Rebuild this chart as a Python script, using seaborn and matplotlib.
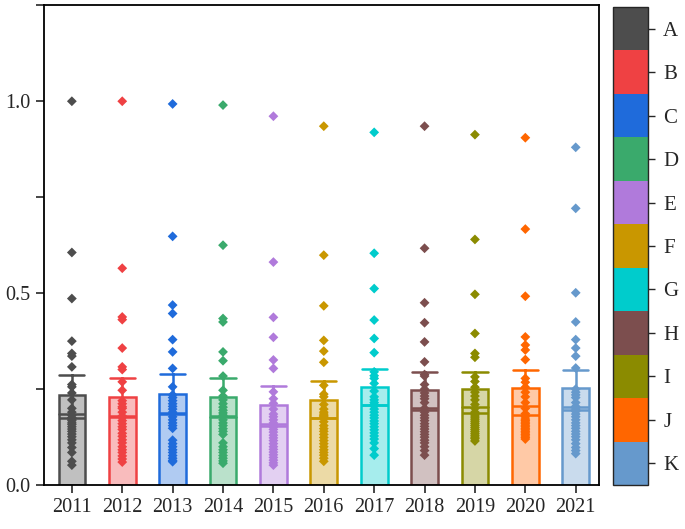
import numpy as np
import pandas as pd
import matplotlib
matplotlib.use("Agg")
import matplotlib.pyplot as plt
import seaborn as sns
from matplotlib.colors import ListedColormap, BoundaryNorm, to_rgba
from matplotlib.cm import ScalarMappable

# values, one list per year
years = ["2011", "2012", "2013", "2014", "2015", "2016", "2017", "2018", "2019", "2020", "2021"]
v2011 = [1.0, 0.606, 0.486, 0.375, 0.343, 0.336, 0.308, 0.262, 0.256, 0.24, 0.222, 0.2, 0.19, 0.182, 0.176,
         0.172, 0.168, 0.162, 0.158, 0.152, 0.146, 0.14, 0.133, 0.126, 0.118, 0.11, 0.098, 0.085, 0.062, 0.052]
v2012 = [1.0, 0.565, 0.438, 0.431, 0.357, 0.308, 0.301, 0.269, 0.247, 0.22, 0.212, 0.204, 0.2, 0.19, 0.18,
         0.176, 0.168, 0.16, 0.152, 0.145, 0.135, 0.127, 0.118, 0.11, 0.1, 0.092, 0.085, 0.076, 0.068, 0.06]
v2013 = [0.993, 0.648, 0.469, 0.447, 0.379, 0.347, 0.304, 0.256, 0.235, 0.228, 0.22, 0.212, 0.205, 0.198, 0.19,
         0.186, 0.178, 0.17, 0.162, 0.155, 0.148, 0.117, 0.108, 0.1, 0.092, 0.085, 0.077, 0.07, 0.064, 0.061]
v2014 = [0.99, 0.625, 0.434, 0.425, 0.347, 0.324, 0.284, 0.247, 0.232, 0.222, 0.212, 0.203, 0.195, 0.188, 0.182,
         0.178, 0.17, 0.162, 0.155, 0.147, 0.14, 0.132, 0.11, 0.1, 0.092, 0.085, 0.077, 0.07, 0.063, 0.057]
v2015 = [0.961, 0.581, 0.437, 0.385, 0.326, 0.304, 0.243, 0.225, 0.213, 0.198, 0.185, 0.178, 0.17, 0.162, 0.157,
         0.151, 0.145, 0.138, 0.13, 0.123, 0.116, 0.108, 0.1, 0.093, 0.086, 0.079, 0.072, 0.065, 0.058, 0.052]
v2016 = [0.935, 0.599, 0.467, 0.377, 0.349, 0.32, 0.26, 0.237, 0.23, 0.21, 0.198, 0.19, 0.185, 0.181, 0.178,
         0.174, 0.165, 0.155, 0.147, 0.14, 0.132, 0.124, 0.116, 0.108, 0.1, 0.092, 0.085, 0.078, 0.07, 0.062]
v2017 = [0.919, 0.604, 0.512, 0.43, 0.382, 0.345, 0.295, 0.285, 0.278, 0.265, 0.245, 0.23, 0.222, 0.215, 0.21,
         0.206, 0.198, 0.19, 0.182, 0.175, 0.167, 0.16, 0.152, 0.144, 0.136, 0.128, 0.12, 0.11, 0.095, 0.078]
v2018 = [0.935, 0.617, 0.475, 0.423, 0.373, 0.321, 0.288, 0.284, 0.262, 0.25, 0.24, 0.232, 0.225, 0.215, 0.2,
         0.19, 0.182, 0.175, 0.168, 0.16, 0.153, 0.146, 0.139, 0.132, 0.125, 0.117, 0.11, 0.1, 0.09, 0.078]
v2019 = [0.913, 0.64, 0.497, 0.395, 0.343, 0.333, 0.282, 0.27, 0.255, 0.242, 0.232, 0.222, 0.21, 0.2, 0.19,
         0.185, 0.18, 0.175, 0.17, 0.165, 0.16, 0.155, 0.15, 0.145, 0.14, 0.135, 0.13, 0.125, 0.121, 0.115]
v2020 = [0.905, 0.667, 0.492, 0.386, 0.365, 0.352, 0.327, 0.278, 0.268, 0.255, 0.242, 0.23, 0.215, 0.2, 0.186,
         0.178, 0.172, 0.168, 0.164, 0.16, 0.156, 0.152, 0.148, 0.144, 0.14, 0.136, 0.132, 0.128, 0.124, 0.12]
v2021 = [0.88, 0.721, 0.501, 0.425, 0.379, 0.357, 0.336, 0.305, 0.25, 0.242, 0.235, 0.228, 0.215, 0.205, 0.198,
         0.192, 0.185, 0.178, 0.17, 0.162, 0.155, 0.148, 0.14, 0.133, 0.126, 0.118, 0.108, 0.098, 0.09, 0.082]

groups = ["A", "B", "C", "D", "E", "F", "G", "H", "I", "J", "K"]
colors = ["#4d4d4d", "#ef4143", "#1f6bdb", "#3aaa6c", "#b07adb", "#c99700",
          "#00cccc", "#7c4e4e", "#8b8b00", "#ff6600", "#6699cc"]

all_vals = [v2011, v2012, v2013, v2014, v2015, v2016, v2017, v2018, v2019, v2020, v2021]
df = pd.concat([pd.DataFrame({"year": y, "value": v}) for y, v in zip(years, all_vals)], ignore_index=True)

sns.set_style("ticks")
plt.rcParams["font.family"] = ["Liberation Serif", "DejaVu Serif"]

fig = plt.figure(figsize=(6.85, 5.29), dpi=100)
ax = fig.add_axes([0.064, 0.083, 0.81, 0.907])
cax = fig.add_axes([0.895, 0.083, 0.051, 0.904])

bar_w = 0.53
sns.barplot(data=df, x="year", y="value", hue="year", order=years, hue_order=years,
            palette=colors, saturation=1, errorbar=("se", 1.45), capsize=0.5, width=bar_w,
            err_kws={"linewidth": 1.8}, legend=False, ax=ax)

# translucent fill, solid edge
for patch, c in zip(ax.patches, colors):
    patch.set_facecolor(to_rgba(c, 0.35))
    patch.set_edgecolor(c)
    patch.set_linewidth(1.8)

# error bars in the bar colour
for line in ax.lines:
    xd = np.asarray(line.get_xdata(), dtype=float)
    if np.all(np.isnan(xd)):
        continue
    idx = int(round(np.nanmean(xd)))
    line.set_color(colors[idx])
    line.set_zorder(4)

# median line across each bar
med = df.groupby("year")["value"].median().reindex(years)
pos = np.arange(len(years))
ax.hlines(med.values, pos - bar_w / 2, pos + bar_w / 2, colors=colors, linewidth=1.8, zorder=2)

sns.stripplot(data=df, x="year", y="value", hue="year", order=years, hue_order=years,
              palette=colors, marker="D", size=5, linewidth=0, jitter=False,
              legend=False, ax=ax, zorder=3)

ax.set_xlim(-0.556, 10.456)
ax.set_ylim(0, 1.25)
ax.set_yticks([0, 0.25, 0.5, 0.75, 1.0, 1.25])
ax.set_yticklabels(["0.0", "", "0.5", "", "1.0", ""])
ax.set_xlabel("")
ax.set_ylabel("")
ax.tick_params(direction="out", length=6, width=1.2, labelsize=14.5)
for s in ax.spines.values():
    s.set_visible(True)
    s.set_linewidth(1.3)
    s.set_color("black")

# colour key on the right
cmap = ListedColormap(colors[::-1])
norm = BoundaryNorm(np.arange(len(groups) + 1), len(groups))
cb = fig.colorbar(ScalarMappable(norm=norm, cmap=cmap), cax=cax, ticks=np.arange(len(groups)) + 0.5)
cb.set_ticklabels(groups[::-1])
cb.outline.set_linewidth(1.0)
cax.minorticks_off()
cax.tick_params(length=5, width=1.0, labelsize=15, pad=6)

fig.savefig("out.png", dpi=100)
